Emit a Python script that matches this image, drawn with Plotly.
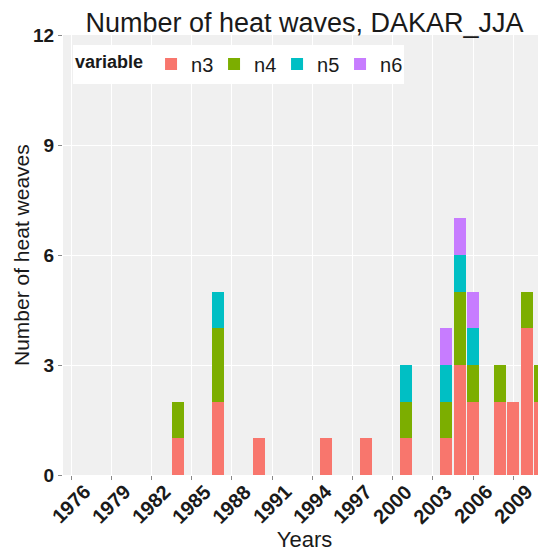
import plotly.graph_objects as go

years = [1984, 1987, 1990, 1995, 1998, 2001, 2004, 2005, 2006, 2008, 2009, 2010, 2011]
n3 = [1, 2, 1, 1, 1, 1, 1, 3, 2, 2, 2, 4, 2]
n4 = [1, 2, 0, 0, 0, 1, 1, 2, 1, 1, 0, 1, 1]
n5 = [0, 1, 0, 0, 0, 1, 1, 1, 1, 0, 0, 0, 0]
n6 = [0, 0, 0, 0, 0, 0, 1, 1, 1, 0, 0, 0, 0]
series_names = ["n3", "n4", "n5", "n6"]
series_colors = ["#F8766D", "#7CAE00", "#00BFC4", "#C77CFF"]
x_ticks = [1976, 1979, 1982, 1985, 1988, 1991, 1994, 1997, 2000, 2003, 2006, 2009]
y_ticks = [0, 3, 6, 9, 12]

FONT = "Liberation Sans, Arial, sans-serif"
TXT = "#1a1a1a"
W, H = 538, 546          # page body has an 8px margin
L, R, T, B = 55, 0, 27, 79
PW = W - L - R

fig = go.Figure()
for name, vals, col in zip(series_names, [n3, n4, n5, n6], series_colors):
    fig.add_trace(go.Bar(x=years, y=vals, name=name,
                         marker=dict(color=col, line=dict(width=0)), width=0.9))

# rotated x tick labels centred on their ticks (ggplot style)
annotations = [
    dict(x=t, xref="x", y=0, yref="y", yshift=-29, text=str(t), showarrow=False,
         textangle=-45, xanchor="center", yanchor="middle",
         font=dict(size=20, weight="bold", color=TXT, family=FONT))
    for t in x_ticks
]
# y-axis title
annotations.append(dict(x=(13 - L) / PW, xref="paper", y=0.5, yref="paper", text="Number of heat weaves",
                        showarrow=False, textangle=-90, xanchor="center", yanchor="middle",
                        font=dict(size=21, color=TXT, family=FONT)))

fig.update_layout(
    barmode="stack",
    width=W, height=H,
    margin=dict(l=L, r=R, t=T, b=B),
    paper_bgcolor="white",
    plot_bgcolor="#F0F0F0",
    font=dict(family=FONT, color=TXT),
    title=dict(text="Number of heat waves, DAKAR_JJA", x=(L + W - R) / 2 / W, xanchor="center",
               y=1 - 15 / H, yanchor="middle", font=dict(size=27, color=TXT)),
    showlegend=True,
    legend=dict(orientation="h", x=0.0207, y=0.9784, xanchor="left", yanchor="top",
                bgcolor="white", font=dict(size=20, color=TXT),
                title=dict(text="variable", font=dict(size=18, weight="bold", color=TXT), side="left"),
                itemwidth=30, entrywidth=18, entrywidthmode="pixels",
                traceorder="normal", tracegroupgap=0),
    bargap=0,
    annotations=annotations,
)
fig.update_xaxes(range=[1975.40, 2011.44], tickvals=x_ticks, showticklabels=False,
                 ticks="outside", ticklen=4, tickcolor="#888888", automargin=False,
                 showgrid=True, gridcolor="white", gridwidth=1.2, zeroline=False,
                 title=dict(text="Years", font=dict(size=22, color=TXT), standoff=52))
fig.update_yaxes(range=[0, 12], tickvals=y_ticks, tickfont=dict(size=19, weight="bold", color=TXT),
                 ticks="outside", ticklen=4, tickcolor="#888888", automargin=False,
                 showgrid=True, gridcolor="white", gridwidth=1.2, zeroline=False)

fig.write_html("out.html")
